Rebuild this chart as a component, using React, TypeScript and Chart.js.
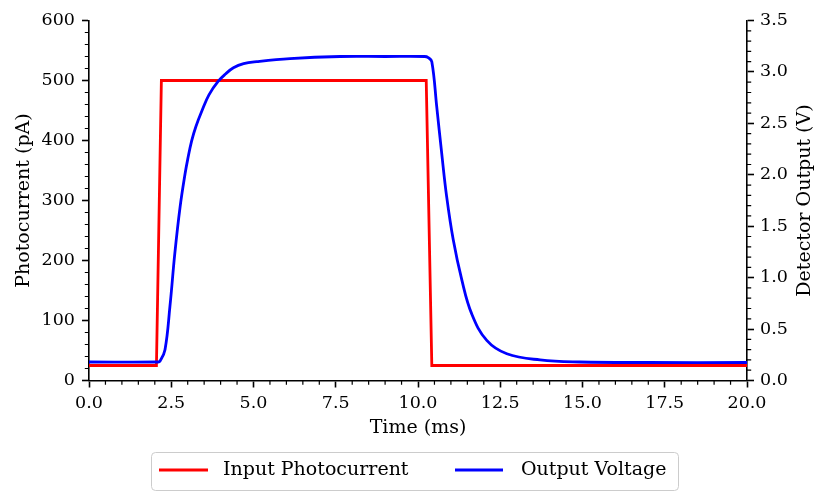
import React, { useEffect, useRef } from "react";
import { Chart, registerables } from "chart.js";

Chart.register(...registerables);

// ---- Data ----
const seriesLabels = ["Input Photocurrent", "Output Voltage"];
const seriesColors = ["#ff0000", "#0000ff"];

const inputTime = [0, 2.05, 2.2, 10.25, 10.42, 20];
const inputPhotocurrent = [25, 25, 500, 500, 25, 25];

const outputTime = [
  0, 2.1, 2.16, 2.31, 2.46, 2.61, 2.77, 2.92, 3.0, 3.12, 3.25, 3.43, 3.65,
  3.93, 4.15, 4.39, 4.7, 5.1, 6.11, 7.63, 9.0, 10.2, 10.31, 10.42, 10.57,
  10.72, 10.87, 11.07, 11.33, 11.63, 12.09, 12.7, 13.71, 14.92, 17, 20,
];
const outputVoltage = [
  0.18, 0.18, 0.19, 0.3, 0.72, 1.24, 1.69, 2.01, 2.15, 2.33, 2.47, 2.62, 2.78,
  2.91, 2.98, 3.04, 3.08, 3.1, 3.13, 3.15, 3.15, 3.15, 3.14, 3.1, 2.66, 2.21,
  1.79, 1.37, 0.98, 0.65, 0.39, 0.26, 0.2, 0.18, 0.175, 0.175,
];

const xTicks = [0, 2.5, 5, 7.5, 10, 12.5, 15, 17.5, 20];
const leftTicks = [0, 100, 200, 300, 400, 500, 600];
const rightTicks = [0, 0.5, 1, 1.5, 2, 2.5, 3, 3.5];

const xTitle = "Time (ms)";
const leftTitle = "Photocurrent (pA)";
const rightTitle = "Detector Output (V)";

const FONT = "'DejaVu Serif', serif";

const minorTicksPlugin = {
  id: "minorTicks",
  afterDraw(chart: any) {
    const { ctx, chartArea, scales } = chart;
    ctx.save();
    ctx.strokeStyle = "#000";
    ctx.lineWidth = 1.2;
    const each = (scale: any, step: number, major: number, fn: (p: number) => void) => {
      const n = Math.round((scale.max - scale.min) / step);
      for (let i = 0; i <= n; i++) {
        const v = scale.min + i * step;
        const r = v / major;
        if (Math.abs(r - Math.round(r)) < 1e-6) continue;
        fn(scale.getPixelForValue(v));
      }
    };
    const L = 4.2;
    ctx.beginPath();
    each(scales.x, 0.5, 2.5, (p) => {
      ctx.moveTo(p, chartArea.bottom);
      ctx.lineTo(p, chartArea.bottom + L);
    });
    each(scales.y, 20, 100, (p) => {
      ctx.moveTo(chartArea.left, p);
      ctx.lineTo(chartArea.left - L, p);
    });
    each(scales.y1, 0.1, 0.5, (p) => {
      ctx.moveTo(chartArea.right, p);
      ctx.lineTo(chartArea.right + L, p);
    });
    ctx.stroke();

    // right axis title, reading bottom-to-top like the reference
    const s = scales.y1;
    ctx.font = `19px ${FONT}`;
    ctx.fillStyle = "#000";
    ctx.textAlign = "center";
    ctx.textBaseline = "middle";
    ctx.translate(s.right - 26, (s.top + s.bottom) / 2);
    ctx.rotate(-Math.PI / 2);
    ctx.fillText(rightTitle, 0, 0);
    ctx.restore();
  },
};

const legendBoxPlugin = {
  id: "legendBox",
  afterDraw(chart: any) {
    const { ctx } = chart;
    const ds = chart.data.datasets;
    ctx.save();
    const bx = 151.5, by = 452.5, bw = 527, bh = 38, r = 4;
    ctx.beginPath();
    ctx.moveTo(bx + r, by);
    ctx.lineTo(bx + bw - r, by);
    ctx.arcTo(bx + bw, by, bx + bw, by + r, r);
    ctx.lineTo(bx + bw, by + bh - r);
    ctx.arcTo(bx + bw, by + bh, bx + bw - r, by + bh, r);
    ctx.lineTo(bx + r, by + bh);
    ctx.arcTo(bx, by + bh, bx, by + bh - r, r);
    ctx.lineTo(bx, by + r);
    ctx.arcTo(bx, by, bx + r, by, r);
    ctx.closePath();
    ctx.fillStyle = "rgba(255,255,255,0.8)";
    ctx.fill();
    ctx.strokeStyle = "#cccccc";
    ctx.lineWidth = 1;
    ctx.stroke();

    const items = [
      { x0: 159, x1: 208, tx: 223, d: ds[0] },
      { x0: 455, x1: 503, tx: 521, d: ds[1] },
    ];
    const cy = 470;
    ctx.font = `19px ${FONT}`;
    ctx.textBaseline = "middle";
    ctx.textAlign = "left";
    for (const it of items) {
      ctx.beginPath();
      ctx.strokeStyle = it.d.borderColor;
      ctx.lineWidth = 2.8;
      ctx.moveTo(it.x0, cy);
      ctx.lineTo(it.x1, cy);
      ctx.stroke();
      ctx.fillStyle = "#000";
      ctx.fillText(it.d.label, it.tx, cy);
    }
    ctx.restore();
  },
};

export default function App() {
  const ref = useRef<HTMLCanvasElement | null>(null);

  useEffect(() => {
    if (!ref.current) return;
    const tickFont = { family: FONT, size: 17.5 };
    const titleFont = { family: FONT, size: 19 };
    const gridOpts = {
      drawOnChartArea: false,
      drawTicks: true,
      tickLength: 7,
      tickWidth: 1.6,
      tickColor: "#000",
    };
    const borderOpts = { display: true, color: "#000", width: 1.6 };

    const chart = new Chart(ref.current, {
      type: "line",
      data: {
        datasets: [
          {
            label: seriesLabels[0],
            data: inputTime.map((t, i) => ({ x: t, y: inputPhotocurrent[i] })),
            borderColor: seriesColors[0],
            backgroundColor: seriesColors[0],
            borderWidth: 2.8,
            pointRadius: 0,
            tension: 0,
            yAxisID: "y",
            order: 1,
          },
          {
            label: seriesLabels[1],
            data: outputTime.map((t, i) => ({ x: t, y: outputVoltage[i] })),
            borderColor: seriesColors[1],
            backgroundColor: seriesColors[1],
            borderWidth: 2.8,
            pointRadius: 0,
            tension: 0.4,
            yAxisID: "y1",
            order: 0,
          },
        ],
      },
      options: {
        responsive: false,
        animation: false,
        events: [],
        layout: { padding: { top: 20.5, bottom: 63.5, left: 0, right: 0 } },
        plugins: {
          legend: { display: false },
          tooltip: { enabled: false },
        },
        scales: {
          x: {
            type: "linear",
            position: "bottom",
            min: 0,
            max: 20,
            afterBuildTicks: (s: any) => {
              s.ticks = xTicks.map((value) => ({ value }));
            },
            afterFit: (s: any) => {
              s.height = 60;
            },
            ticks: {
              font: tickFont,
              color: "#000",
              padding: 5,
              maxRotation: 0,
              autoSkip: false,
              callback: (v: any) => Number(v).toFixed(1),
            },
            grid: gridOpts,
            border: borderOpts,
            title: {
              display: true,
              text: xTitle,
              font: titleFont,
              color: "#000",
              padding: { top: 0, bottom: 1.1 },
            },
          },
          y: {
            type: "linear",
            position: "left",
            min: 0,
            max: 600,
            afterBuildTicks: (s: any) => {
              s.ticks = leftTicks.map((value) => ({ value }));
            },
            afterFit: (s: any) => {
              s.width = 89;
            },
            ticks: {
              font: tickFont,
              color: "#000",
              padding: 7,
              autoSkip: false,
              callback: (v: any) => String(v),
            },
            grid: gridOpts,
            border: borderOpts,
            title: {
              display: true,
              text: leftTitle,
              font: titleFont,
              color: "#000",
              padding: { top: 13, bottom: 0 },
            },
          },
          y1: {
            type: "linear",
            position: "right",
            min: 0,
            max: 3.5,
            afterBuildTicks: (s: any) => {
              s.ticks = rightTicks.map((value) => ({ value }));
            },
            afterFit: (s: any) => {
              s.width = 84;
            },
            ticks: {
              font: tickFont,
              color: "#000",
              padding: 6,
              autoSkip: false,
              callback: (v: any) => Number(v).toFixed(1),
            },
            grid: gridOpts,
            border: borderOpts,
            title: { display: false },
          },
        },
      },
      plugins: [minorTicksPlugin, legendBoxPlugin],
    } as any);

    return () => chart.destroy();
  }, []);

  return (
    <div style={{ position: "absolute", left: 0, top: 0, width: 831, height: 504, background: "#fff" }}>
      <canvas ref={ref} width={831} height={504} style={{ width: 831, height: 504, display: "block" }} />
    </div>
  );
}
